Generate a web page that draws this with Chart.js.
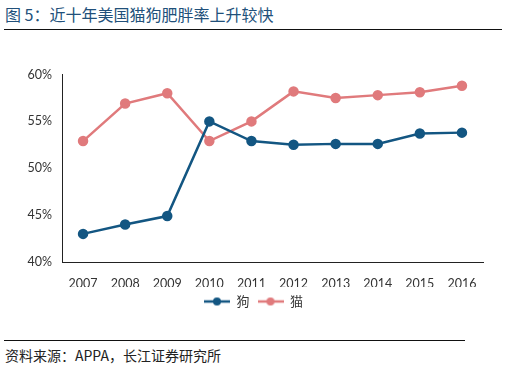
<!DOCTYPE html>
<html>
<head>
<meta charset="utf-8">
<script src="https://cdn.jsdelivr.net/npm/chart.js@4"></script>
<style>
  body { margin: 0; width: 512px; height: 369px; background: #fff; position: relative; overflow: hidden; font-family: "Noto Sans CJK SC", sans-serif; }
  #title { position: absolute; left: 5px; top: 2px; font-size: 16px; color: #21507a; white-space: nowrap; }
  #topRule { position: absolute; left: 4px; top: 29px; width: 498px; height: 1px; background: #111; }
  #bottomRule { position: absolute; left: 4px; top: 340px; width: 461px; height: 1px; background: #111; }
  #source { position: absolute; left: 5px; top: 345px; font-size: 14px; color: #222; white-space: nowrap; }
  #wrap { position: absolute; left: 0; top: 40px; width: 512px; height: 290px; }
</style>
</head>
<body>
<div id="title">图 5：近十年美国猫狗肥胖率上升较快</div>
<div id="topRule"></div>
<div id="wrap"><canvas id="chart"></canvas></div>
<div id="bottomRule"></div>
<div id="source">资料来源：APPA，长江证券研究所</div>
<script>
const years = ['2007', '2008', '2009', '2010', '2011', '2012', '2013', '2014', '2015', '2016'];
const dogRate = [43.0, 44.0, 44.9, 55.0, 52.9, 52.5, 52.6, 52.6, 53.7, 53.8];
const catRate = [52.9, 56.9, 58.0, 52.9, 55.0, 58.2, 57.5, 57.8, 58.1, 58.8];
const yTicks = [40, 45, 50, 55, 60];

const dogColor = '#135682';
const catColor = '#e07a7c';

// little line-with-dot swatch for the legend
function legendSwatch(color) {
    const c = document.createElement('canvas');
    c.width = 26;
    c.height = 10;
    const g = c.getContext('2d');
    g.strokeStyle = color;
    g.lineWidth = 2.5;
    g.beginPath();
    g.moveTo(0, 5);
    g.lineTo(26, 5);
    g.stroke();
    g.fillStyle = color;
    g.beginPath();
    g.arc(13, 5, 4, 0, Math.PI * 2);
    g.fill();
    return c;
}

// nudge the legend so it sits under the middle of the page
const legendShift = {
    id: 'legendShift',
    beforeDraw(chart) {
        chart.legend.left = 12;
        chart.legend.right = 495;
    }
};

const tickFont = { family: 'Lato, "DejaVu Sans", sans-serif', size: 12.5 };

new Chart(document.getElementById('chart'), {
    type: 'line',
    data: {
        labels: years,
        datasets: [
            { label: '狗', data: dogRate, borderColor: dogColor, backgroundColor: dogColor, borderWidth: 2.5, pointRadius: 4, pointHoverRadius: 4 },
            { label: '猫', data: catRate, borderColor: catColor, backgroundColor: catColor, borderWidth: 2.5, pointRadius: 4, pointHoverRadius: 4 }
        ]
    },
    options: {
        responsive: true,
        maintainAspectRatio: false,
        animation: false,
        layout: { padding: { top: 34.5, right: 29, left: 0, bottom: 12 } },
        plugins: {
            tooltip: { enabled: false },
            legend: {
                position: 'bottom',
                labels: {
                    usePointStyle: true,
                    pointStyleWidth: 26,
                    padding: 8,
                    color: '#333',
                    font: { family: '"Noto Sans CJK SC", sans-serif', size: 13 },
                    generateLabels: function(chart) {
                        return chart.data.datasets.map((ds, i) => ({
                            text: ds.label,
                            fontColor: '#333',
                            pointStyle: legendSwatch(ds.borderColor),
                            datasetIndex: i,
                            hidden: false,
                            lineWidth: 0
                        }));
                    }
                }
            }
        },
        scales: {
            x: {
                offset: true,
                grid: { display: false, drawTicks: false },
                border: { display: true, color: '#222', width: 1 },
                ticks: { color: '#333', font: tickFont, padding: 14, maxRotation: 0 },
                afterFit: function(scale) { scale.height = 25; }
            },
            y: {
                min: 40,
                max: 60,
                afterBuildTicks: function(scale) { scale.ticks = yTicks.map(v => ({ value: v })); },
                grid: { display: false, drawTicks: false },
                border: { display: true, color: '#222', width: 1 },
                ticks: { color: '#333', font: tickFont, padding: 10, callback: v => v + '%' },
                afterFit: function(scale) { scale.width = 62; }
            }
        }
    },
    plugins: [legendShift]
});
</script>
</body>
</html>
